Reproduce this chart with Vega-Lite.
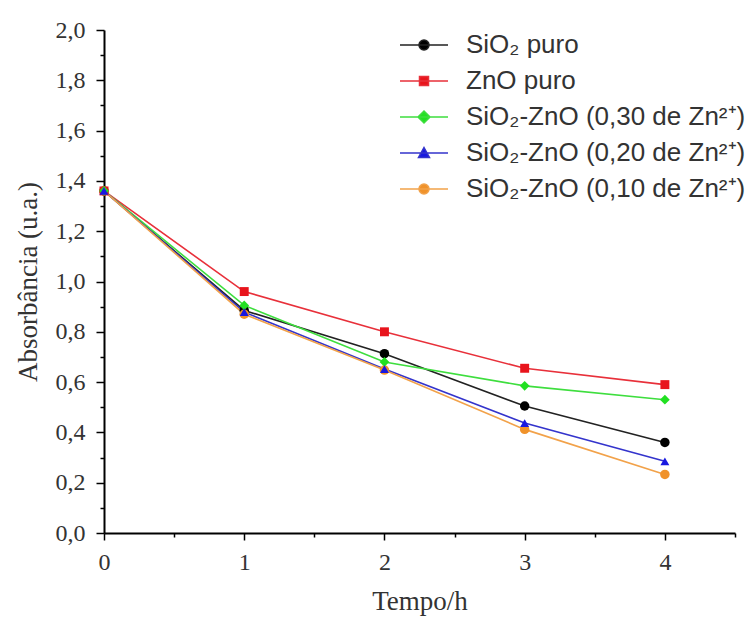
{
  "$schema": "https://vega.github.io/schema/vega-lite/v6.json",
  "autosize": "none",
  "width": 631,
  "height": 503,
  "padding": {"left": 104, "top": 30, "right": 12, "bottom": 89},
  "background": "white",
  "config": {
    "view": {"stroke": null},
    "axis": {"grid": false, "domainColor": "#000", "domainWidth": 2, "tickColor": "#000", "tickWidth": 1.5,
      "labelFont": "Liberation Serif", "labelFontSize": 24, "labelColor": "#333",
      "titleFont": "Liberation Serif", "titleFontSize": 27, "titleFontWeight": "normal", "titleColor": "#333"}
  },
  "data": {"values": [
    {"t": 0, "s": "SiO₂ puro", "a": 1.36},
    {"t": 1, "s": "SiO₂ puro", "a": 0.885},
    {"t": 2, "s": "SiO₂ puro", "a": 0.713},
    {"t": 3, "s": "SiO₂ puro", "a": 0.505},
    {"t": 4, "s": "SiO₂ puro", "a": 0.36},
    {"t": 0, "s": "ZnO puro", "a": 1.36},
    {"t": 1, "s": "ZnO puro", "a": 0.96},
    {"t": 2, "s": "ZnO puro", "a": 0.80},
    {"t": 3, "s": "ZnO puro", "a": 0.655},
    {"t": 4, "s": "ZnO puro", "a": 0.59},
    {"t": 0, "s": "SiO₂-ZnO (0,30 de Zn²⁺)", "a": 1.36},
    {"t": 1, "s": "SiO₂-ZnO (0,30 de Zn²⁺)", "a": 0.905},
    {"t": 2, "s": "SiO₂-ZnO (0,30 de Zn²⁺)", "a": 0.68},
    {"t": 3, "s": "SiO₂-ZnO (0,30 de Zn²⁺)", "a": 0.585},
    {"t": 4, "s": "SiO₂-ZnO (0,30 de Zn²⁺)", "a": 0.53},
    {"t": 0, "s": "SiO₂-ZnO (0,20 de Zn²⁺)", "a": 1.36},
    {"t": 1, "s": "SiO₂-ZnO (0,20 de Zn²⁺)", "a": 0.878},
    {"t": 2, "s": "SiO₂-ZnO (0,20 de Zn²⁺)", "a": 0.652},
    {"t": 3, "s": "SiO₂-ZnO (0,20 de Zn²⁺)", "a": 0.437},
    {"t": 4, "s": "SiO₂-ZnO (0,20 de Zn²⁺)", "a": 0.285},
    {"t": 0, "s": "SiO₂-ZnO (0,10 de Zn²⁺)", "a": 1.36},
    {"t": 1, "s": "SiO₂-ZnO (0,10 de Zn²⁺)", "a": 0.87},
    {"t": 2, "s": "SiO₂-ZnO (0,10 de Zn²⁺)", "a": 0.648},
    {"t": 3, "s": "SiO₂-ZnO (0,10 de Zn²⁺)", "a": 0.412},
    {"t": 4, "s": "SiO₂-ZnO (0,10 de Zn²⁺)", "a": 0.233}
  ]},
  "encoding": {
    "x": {"field": "t", "type": "quantitative",
      "scale": {"domain": [0, 4.5], "nice": false, "zero": false},
      "axis": {"title": "Tempo/h", "values": [0, 0.5, 1, 1.5, 2, 2.5, 3, 3.5, 4, 4.5],
        "labelExpr": "datum.value % 1 == 0 ? format(datum.value, 'd') : ''",
        "tickSize": {"condition": {"test": "datum.value % 1 == 0", "value": 7}, "value": 4},
        "labelPadding": 10, "titlePadding": 14, "labelFlush": false}},
    "y": {"field": "a", "type": "quantitative",
      "scale": {"domain": [0, 2], "nice": false},
      "axis": {"title": "Absorbância (u.a.)",
        "values": [0, 0.1, 0.2, 0.3, 0.4, 0.5, 0.6, 0.7, 0.8, 0.9, 1, 1.1, 1.2, 1.3, 1.4, 1.5, 1.6, 1.7, 1.8, 1.9, 2],
        "labelExpr": "round(datum.value * 10) % 2 == 0 ? replace(format(datum.value, '.1f'), '.', ',') + '\u2009' : ''",
        "tickSize": {"condition": {"test": "round(datum.value * 10) % 2 == 0", "value": 8}, "value": 4},
        "labelPadding": 11, "titlePadding": 13, "labelFlush": false}}
  },
  "layer": [
    {
      "mark": {"type": "line", "strokeWidth": 1.6},
      "encoding": {
        "stroke": {"field": "s", "type": "nominal", "legend": null,
          "scale": {"domain": ["SiO₂ puro", "ZnO puro", "SiO₂-ZnO (0,30 de Zn²⁺)", "SiO₂-ZnO (0,20 de Zn²⁺)", "SiO₂-ZnO (0,10 de Zn²⁺)"],
            "range": ["#222222", "#e8303a", "#3ede3e", "#3434cc", "#f2a24a"]}}
      }
    },
    {
      "mark": {"type": "point", "filled": true, "size": 0, "strokeWidth": 1.6},
      "encoding": {
        "color": {"field": "s", "type": "nominal",
          "scale": {"domain": ["SiO₂ puro", "ZnO puro", "SiO₂-ZnO (0,30 de Zn²⁺)", "SiO₂-ZnO (0,20 de Zn²⁺)", "SiO₂-ZnO (0,10 de Zn²⁺)"],
            "range": ["#000000", "#e8141c", "#22e022", "#1818e0", "#f0922a"]},
          "legend": {"title": null, "orient": "none", "legendX": 307, "legendY": 2, "padding": 0,
            "symbolSize": 100, "symbolOpacity": 1, "labelOffset": 29, "rowPadding": 10,
            "labelFont": "Liberation Sans", "labelFontSize": 26, "labelColor": "#333", "labelLimit": 500}},
        "stroke": {"field": "s", "type": "nominal",
          "legend": {"title": null, "orient": "none", "legendX": 307, "legendY": 2, "padding": 0,
            "symbolSize": 100, "symbolOpacity": 1, "labelOffset": 29, "rowPadding": 10,
            "labelFont": "Liberation Sans", "labelFontSize": 26, "labelColor": "#333", "labelLimit": 500}},
        "shape": {"field": "s", "type": "nominal",
          "scale": {"domain": ["SiO₂ puro", "ZnO puro", "SiO₂-ZnO (0,30 de Zn²⁺)", "SiO₂-ZnO (0,20 de Zn²⁺)", "SiO₂-ZnO (0,10 de Zn²⁺)"],
            "range": [
              "M-4.8,0H4.8M1,0A1,1,0,1,1,-1,0A1,1,0,1,1,1,0Z",
              "M-4.8,0H4.8M-0.9,-0.9H0.9V0.9H-0.9Z",
              "M-4.8,0H4.8M0,-1.2L1.2,0L0,1.2L-1.2,0Z",
              "M-4.8,0H4.8M0,-1.1L1.1,0.9H-1.1Z",
              "M-4.8,0H4.8M1,0A1,1,0,1,1,-1,0A1,1,0,1,1,1,0Z"
            ]},
          "legend": {"title": null, "orient": "none", "legendX": 307, "legendY": 2, "padding": 0,
            "symbolSize": 100, "symbolOpacity": 1, "labelOffset": 29, "rowPadding": 10,
            "labelFont": "Liberation Sans", "labelFontSize": 26, "labelColor": "#333", "labelLimit": 500}}
      }
    },
    {
      "transform": [{"filter": "datum.s == 'SiO₂ puro' || datum.s == 'SiO₂-ZnO (0,10 de Zn²⁺)'"}],
      "mark": {"type": "point", "filled": true, "size": 90, "opacity": 1, "shape": "circle"},
      "encoding": {"color": {"field": "s", "type": "nominal", "legend": null}}
    },
    {
      "transform": [{"filter": "datum.s == 'ZnO puro'"}],
      "mark": {"type": "point", "filled": true, "size": 80, "opacity": 1, "shape": "square"},
      "encoding": {"color": {"field": "s", "type": "nominal", "legend": null}}
    },
    {
      "transform": [{"filter": "datum.s == 'SiO₂-ZnO (0,30 de Zn²⁺)'"}],
      "mark": {"type": "point", "filled": true, "size": 95, "opacity": 1, "shape": "diamond"},
      "encoding": {"color": {"field": "s", "type": "nominal", "legend": null}}
    },
    {
      "transform": [{"filter": "datum.s == 'SiO₂-ZnO (0,20 de Zn²⁺)'"}],
      "mark": {"type": "point", "filled": true, "size": 80, "opacity": 1, "shape": "triangle-up"},
      "encoding": {"color": {"field": "s", "type": "nominal", "legend": null}}
    }
  ],
  "resolve": {"legend": {"color": "independent", "stroke": "independent", "shape": "independent"}}
}
